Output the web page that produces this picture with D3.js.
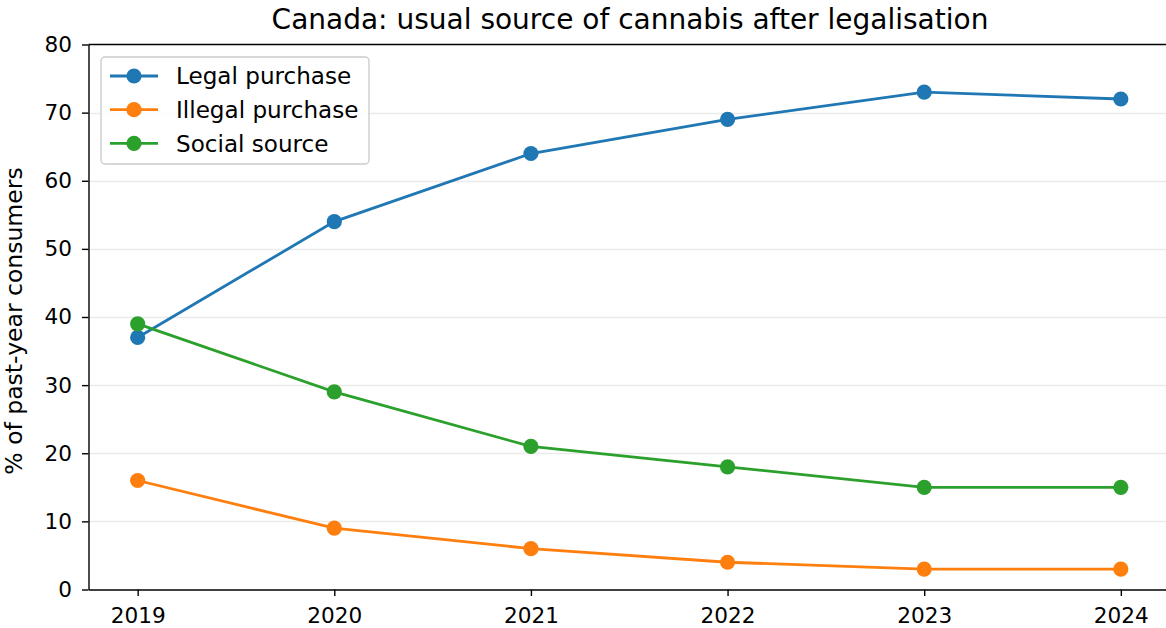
<!DOCTYPE html>
<meta charset="utf-8">
<head>
  <title>Canada: usual source of cannabis</title>
</head>
<style>
body { margin: 0; background: #fff; }
svg text { font-family: "DejaVu Sans", sans-serif; fill: #000; }
.grid line { stroke: #ebebeb; stroke-width: 1.4; }
.axis path, .axis line { stroke: #000; stroke-width: 1.4; }
.axis text { font-size: 21.6px; }
</style>
<body>
<svg width="1166" height="628"></svg>
<script src="https://cdnjs.cloudflare.com/ajax/libs/d3/7.8.5/d3.min.js"></script>
<script>

// data
var years = [2019, 2020, 2021, 2022, 2023, 2024];
var legal = [37, 54, 64, 69, 73, 72];
var illegal = [16, 9, 6, 4, 3, 3];
var social = [39, 29, 21, 18, 15, 15];
var yTicks = [0, 10, 20, 30, 40, 50, 60, 70, 80];

var series = [
    {name: "Legal purchase", color: "#1f77b4", values: legal},
    {name: "Illegal purchase", color: "#ff7f0e", values: illegal},
    {name: "Social source", color: "#2ca02c", values: social}
];

var svg = d3.select("svg");
var pLeft = 88.5, pRight = 1170, pTop = 44.5, pBottom = 589.5;

var x = d3.scaleLinear().domain([2018.75, 2024.25]).range([pLeft, pRight]);
var y = d3.scaleLinear().domain([0, 80]).range([pBottom, pTop]);

// gridlines
svg.append("g").attr("class", "grid")
    .selectAll("line")
    .data(yTicks.filter(d => d > 0 && d < 80))
    .enter().append("line")
    .attr("x1", pLeft).attr("x2", pRight)
    .attr("y1", d => Math.round(y(d)) + 0.5)
    .attr("y2", d => Math.round(y(d)) + 0.5);

// axes
svg.append("g").attr("class", "axis")
    .attr("transform", "translate(0," + pBottom + ")")
    .call(d3.axisBottom(x).tickValues(years).tickFormat(d3.format("d"))
        .tickSize(6.5).tickPadding(12).tickSizeOuter(0));

svg.append("g").attr("class", "axis")
    .attr("transform", "translate(" + pLeft + ",0)")
    .call(d3.axisLeft(y).tickValues(yTicks).tickSize(6.5).tickPadding(10).tickSizeOuter(0));

// top spine
svg.append("line")
    .attr("x1", pLeft).attr("x2", pRight)
    .attr("y1", pTop).attr("y2", pTop)
    .attr("stroke", "#000").attr("stroke-width", 1.4);

// lines and markers
var line = d3.line()
    .x((d, i) => x(years[i]))
    .y(d => y(d));

series.forEach(function(s) {
    var g = svg.append("g");
    g.append("path")
        .attr("d", line(s.values))
        .attr("fill", "none")
        .attr("stroke", s.color)
        .attr("stroke-width", 2.8);
    g.selectAll("circle")
        .data(s.values)
        .enter().append("circle")
        .attr("cx", (d, i) => x(years[i]))
        .attr("cy", d => y(d))
        .attr("r", 7.6)
        .attr("fill", s.color);
});

// title
svg.append("text")
    .attr("x", 630)
    .attr("y", 29)
    .attr("text-anchor", "middle")
    .style("font-size", "28px")
    .text("Canada: usual source of cannabis after legalisation");

// y label
svg.append("text")
    .attr("transform", "translate(22,321) rotate(-90)")
    .attr("text-anchor", "middle")
    .style("font-size", "23.5px")
    .text("% of past-year consumers");

// legend
var legend = svg.append("g");
legend.append("rect")
    .attr("x", 101).attr("y", 57)
    .attr("width", 268).attr("height", 107)
    .attr("rx", 4)
    .attr("fill", "#fff").attr("fill-opacity", 0.8)
    .attr("stroke", "#cccccc").attr("stroke-width", 1.4);

series.forEach(function(s, i) {
    var ly = 76 + i * 33.7;
    legend.append("line")
        .attr("x1", 110).attr("x2", 158)
        .attr("y1", ly).attr("y2", ly)
        .attr("stroke", s.color).attr("stroke-width", 2.8);
    legend.append("circle")
        .attr("cx", 134).attr("cy", ly).attr("r", 7.6)
        .attr("fill", s.color);
    legend.append("text")
        .attr("x", 176).attr("y", ly + 8.2)
        .style("font-size", "23.1px")
        .text(s.name);
});

</script>
</body>
